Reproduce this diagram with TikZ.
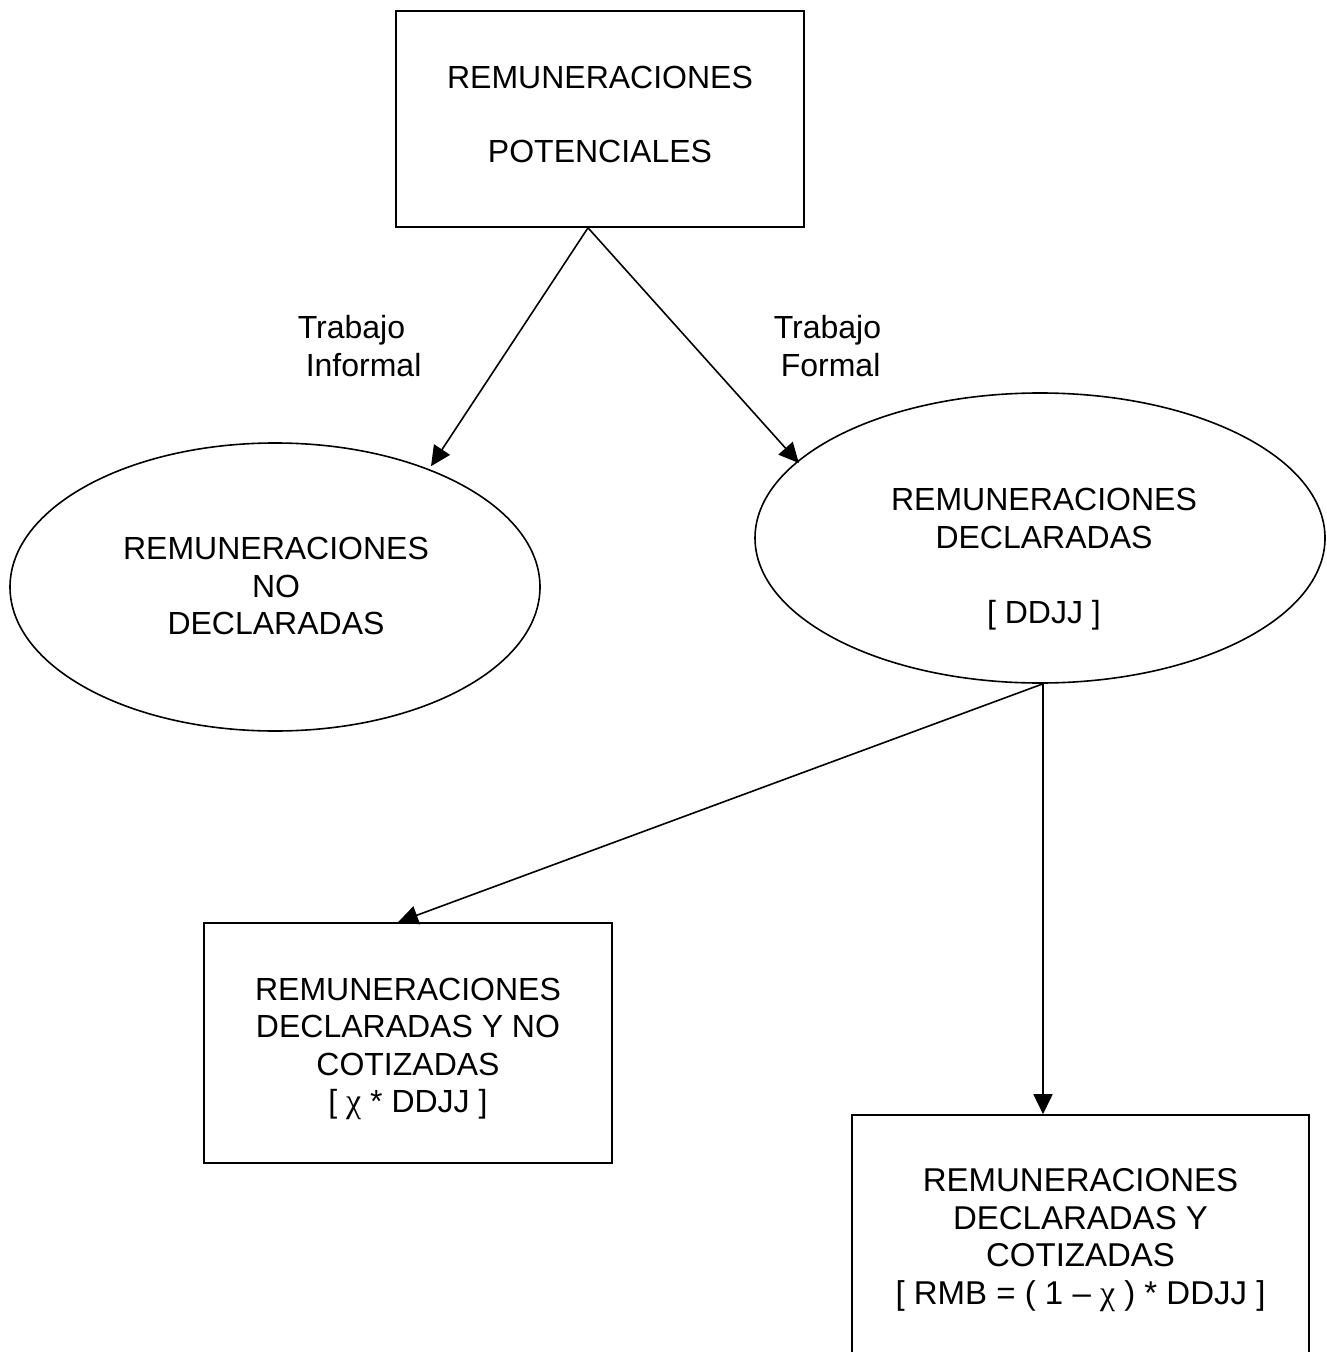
\documentclass[tikz,border=0pt]{standalone}
\usepackage{fontspec}
\setmainfont{Liberation Sans}
\newfontfamily\chifont{Liberation Serif}
\usetikzlibrary{shapes.geometric,arrows.meta,calc}
\begin{document}
\begin{tikzpicture}[x=0.5pt,y=-0.5pt,
  line width=0.8pt,
  box/.style={draw, rectangle, inner sep=0pt},
  oval/.style={draw, ellipse, inner sep=0pt},
  txt/.style={align=center, font=\fontsize{16}{18.75}\selectfont, inner sep=0pt},
  lbl/.style={anchor=base west, font=\fontsize{16}{18.75}\selectfont, inner sep=0pt},
  arr/.style={-{Triangle[length=10pt,width=9.5pt]}}]
\clip (0,0) rectangle (1326,1352);
% shapes
\node[box, minimum width=204pt, minimum height=108pt] (top) at (600,119) {};
\node[oval, minimum width=265pt, minimum height=144pt] (left) at (275,587) {};
\node[oval, minimum width=285pt, minimum height=145pt] (right) at (1040,538) {};
\node[box, minimum width=204pt, minimum height=120pt] (box2) at (408,1043) {};
\node[box, minimum width=228.5pt, minimum height=130pt] (box3) at (1080.5,1245) {};
% texts
\node[txt] (ttop) at (600,114) {REMUNERACIONES\\[18.25pt]POTENCIALES};
\node[txt] (tleft) at (276,586) {REMUNERACIONES\\NO\\DECLARADAS};
\node[txt] (tright) at (1044,559) {REMUNERACIONES\\DECLARADAS\\[18.75pt]{[} DDJJ ]};
\node[txt] (tbox2) at (408,1049) {REMUNERACIONES\\DECLARADAS Y NO\\COTIZADAS\\{[} {\chifont\fontsize{17}{18.75}\selectfont χ} * DDJJ ]};
\node[txt, font=\fontsize{16.5}{18.75}\selectfont] (tbox3) at (1080.5,1240) {REMUNERACIONES\\DECLARADAS Y\\COTIZADAS\\{[} RMB = ( 1 – {\chifont\fontsize{17}{18.75}\selectfont χ} ) * DDJJ ]};
% labels
\node[lbl] (la1) at (297,339) {Trabajo};
\node[lbl] (la2) at (305,377) {Informal};
\node[lbl] (lb1) at (773,339) {Trabajo};
\node[lbl] (lb2) at (780,377) {Formal};
% connectors
\coordinate (src) at ($(top.south)+(-12,0)$);
\coordinate (jct) at ($(right.south)+(3,0)$);
\draw[arr] (src) -- ($(left.38)+(4,-2)$);
\draw[arr] (src) -- ($(right.163)+(4,0)$);
\draw[arr] (jct) -- ($(box2.north)+(-10,0)$);
\draw[arr] (jct) -- (jct |- box3.north);
\end{tikzpicture}
\end{document}
